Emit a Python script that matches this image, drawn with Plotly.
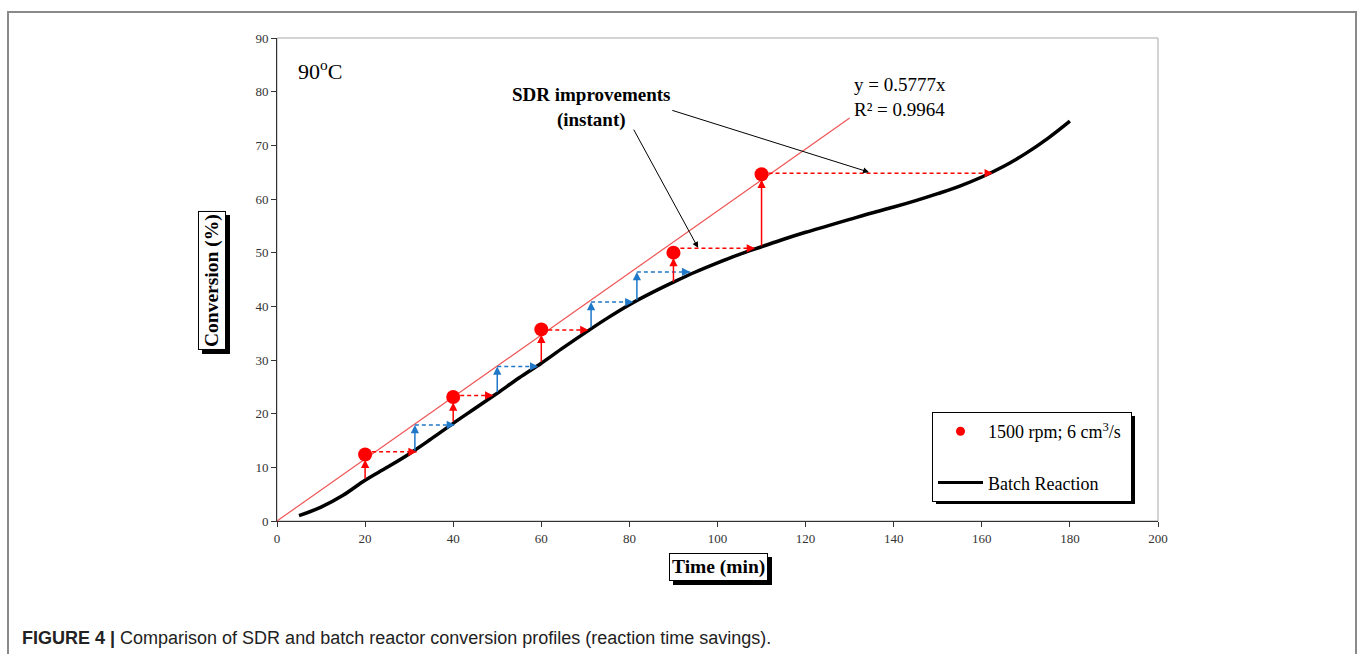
import plotly.graph_objects as go

# ---------------- data ----------------
batch_time = [5, 10, 15, 20, 25, 30, 35, 40, 45, 50, 55, 60, 65, 70, 75, 80, 85, 90,
              95, 100, 105, 110, 115, 120, 125, 130, 135, 140, 145, 150, 155, 160,
              165, 170, 175, 180]
batch_conv = [1.0, 2.6, 4.8, 7.6, 10.0, 12.5, 15.3, 18.2, 21.0, 23.8, 26.7, 29.4,
              32.3, 35.1, 37.8, 40.3, 42.5, 44.5, 46.4, 48.1, 49.7, 51.1, 52.5, 53.8,
              55.0, 56.2, 57.4, 58.5, 59.7, 61.0, 62.4, 64.1, 66.1, 68.5, 71.3, 74.5]

sdr_time = [20, 40, 60, 90, 110]
sdr_conv = [12.4, 23.1, 35.7, 50.0, 64.6]
sdr_base = [7.6, 18.3, 29.4, 44.3, 51.0]        # batch conversion at same time
sdr_level = [12.9, 23.4, 35.6, 50.8, 64.8]      # horizontal saving arrows level
sdr_end = [31.7, 49.1, 70.7, 108.5, 162.5]      # equivalent batch time

blue_time = [31.3, 50.0, 71.3, 81.7]
blue_base = [12.8, 23.7, 35.8, 40.9]
blue_level = [17.9, 28.8, 40.8, 46.4]
blue_end = [40.4, 59.3, 80.9, 93.8]

trend_x = [0, 130]
trend_y = [0, 75.1]

x_ticks = [0, 20, 40, 60, 80, 100, 120, 140, 160, 180, 200]
y_ticks = [0, 10, 20, 30, 40, 50, 60, 70, 80, 90]

RED = "#ff0000"
BLUE = "#1f78c8"
SERIF = "Liberation Serif"

fig = go.Figure()

# trendline
fig.add_trace(go.Scatter(x=trend_x, y=trend_y, mode="lines",
                         line=dict(color="#ee5555", width=1.2), showlegend=False,
                         hoverinfo="skip"))

# dashed horizontal segments
def dashed(xs0, xs1, ys):
    X, Y = [], []
    for a, b, c in zip(xs0, xs1, ys):
        X += [a, b, None]
        Y += [c, c, None]
    return X, Y

bx, by = dashed(blue_time, blue_end, blue_level)
fig.add_trace(go.Scatter(x=bx, y=by, mode="lines", line=dict(color=BLUE, width=1.5, dash="4px,3px"),
                         showlegend=False, hoverinfo="skip"))
rx, ry = dashed(sdr_time, sdr_end, sdr_level)
fig.add_trace(go.Scatter(x=rx, y=ry, mode="lines", line=dict(color=RED, width=1.5, dash="4px,3px"),
                         showlegend=False, hoverinfo="skip"))

# batch curve
fig.add_trace(go.Scatter(x=batch_time, y=batch_conv, mode="lines",
                         line=dict(color="black", width=3.5, shape="spline", smoothing=1),
                         name="Batch Reaction", showlegend=False))

# SDR points
fig.add_trace(go.Scatter(x=sdr_time, y=sdr_conv, mode="markers",
                         marker=dict(color=RED, size=14), showlegend=False))

# legend entries
fig.add_trace(go.Scatter(x=[None], y=[None], mode="markers",
                         marker=dict(color=RED, size=9),
                         name="1500 rpm; 6 cm<sup>3</sup>/s ", legendgroup="a"))
fig.add_trace(go.Scatter(x=[None], y=[None], mode="lines",
                         line=dict(color="black", width=3),
                         name="Batch Reaction", legendgroup="b"))

ann = []
# vertical arrows (solid)
for t, b0, top in zip(sdr_time, sdr_base, sdr_conv):
    ann.append(dict(x=t, y=top - 1.0, ax=t, ay=b0, xref="x", yref="y", axref="x", ayref="y",
                    text="", showarrow=True, arrowhead=2, arrowsize=1.1, arrowwidth=1.5,
                    arrowcolor=RED))
for t, b0, top in zip(blue_time, blue_base, blue_level):
    ann.append(dict(x=t, y=top, ax=t, ay=b0, xref="x", yref="y", axref="x", ayref="y",
                    text="", showarrow=True, arrowhead=2, arrowsize=1.1, arrowwidth=1.5,
                    arrowcolor=BLUE))
# heads of dashed arrows
for e, lv in zip(blue_end, blue_level):
    ann.append(dict(x=e, y=lv, ax=e - 2, ay=lv, xref="x", yref="y", axref="x", ayref="y",
                    text="", showarrow=True, arrowhead=2, arrowsize=1.1, arrowwidth=1.5,
                    arrowcolor=BLUE))
for e, lv in zip(sdr_end, sdr_level):
    ann.append(dict(x=e, y=lv, ax=e - 2, ay=lv, xref="x", yref="y", axref="x", ayref="y",
                    text="", showarrow=True, arrowhead=2, arrowsize=1.1, arrowwidth=1.5,
                    arrowcolor=RED))

# pointer arrows from label
ann.append(dict(x=95.6, y=50.9, ax=80.8, ay=73.2, xref="x", yref="y", axref="x", ayref="y",
                text="", showarrow=True, arrowhead=2, arrowsize=1.2, arrowwidth=1,
                arrowcolor="black"))
ann.append(dict(x=134.4, y=65.0, ax=89.4, ay=76.6, xref="x", yref="y", axref="x", ayref="y",
                text="", showarrow=True, arrowhead=2, arrowsize=1.2, arrowwidth=1,
                arrowcolor="black"))

# text labels
ann.append(dict(x=71.3, y=77.0, xref="x", yref="y", showarrow=False,
                text="<b>SDR improvements<br>(instant)</b>",
                font=dict(family=SERIF, size=19, color="black"), align="center"))
ann.append(dict(x=4.3, y=84.0, xref="x", yref="y", showarrow=False, xanchor="left",
                text="90<sup>o</sup>C", font=dict(family=SERIF, size=22, color="black")))
ann.append(dict(x=130.5, y=79.1, xref="x", yref="y", showarrow=False, xanchor="left",
                text="y = 0.5777x<br>R² = 0.9964", align="left",
                font=dict(family=SERIF, size=19, color="black")))

# axis titles with shadow boxes
for txt, px, py, ang in [("<b>Time (min)</b>", 0.5017, -0.0952, 0),
                         ("<b>Conversion (%)</b>", -0.0738, 0.499, -90)]:
    ann.append(dict(x=px, y=py, xref="paper", yref="paper", showarrow=False, text=txt,
                    textangle=ang, xshift=4, yshift=-4, xanchor="center", yanchor="middle",
                    font=dict(family=SERIF, size=19.5, color="black"),
                    bgcolor="black", bordercolor="black", borderwidth=1, borderpad=2))
    ann.append(dict(x=px, y=py, xref="paper", yref="paper", showarrow=False, text=txt,
                    textangle=ang, xanchor="center", yanchor="middle",
                    font=dict(family=SERIF, size=19.5, color="black"),
                    bgcolor="white", bordercolor="black", borderwidth=1, borderpad=2))

# caption
ann.append(dict(x=(20 - 277) / 881, y=(521 - 638) / 483, xref="paper", yref="paper",
                showarrow=False, xanchor="left", yanchor="middle",
                text="<b>FIGURE 4 |</b> Comparison of SDR and batch reactor conversion profiles (reaction time savings).",
                font=dict(family="Liberation Sans", size=18, color="#222")))

shapes = [
    # plot frame
    dict(type="rect", xref="paper", yref="paper", x0=0, x1=1, y0=0, y1=1,
         line=dict(color="#a8a8a8", width=1), layer="below"),
    # outer figure frame
    dict(type="rect", xref="paper", yref="paper",
         x0=(8 - 277) / 881, x1=(1356 - 277) / 881, y0=(521 - 670) / 483, y1=(521 - 12) / 483,
         line=dict(color="#8a8a8a", width=2), layer="below"),
    # legend shadow
    dict(type="rect", xref="paper", yref="paper",
         x0=(936 - 277) / 881, x1=(1135 - 277) / 881, y0=(521 - 504) / 483, y1=(521 - 416) / 483,
         line=dict(color="black", width=0), fillcolor="black", layer="above"),
]

fig.update_layout(
    width=1358, height=654,
    margin=dict(l=277, r=200, t=38, b=133),
    paper_bgcolor="white", plot_bgcolor="white",
    showlegend=True,
    legend=dict(x=(932 - 277) / 881, y=(521 - 412) / 483, xanchor="left", yanchor="top",
                bgcolor="white", bordercolor="black", borderwidth=1,
                font=dict(family=SERIF, size=18, color="black"),
                traceorder="grouped", tracegroupgap=25, itemwidth=45),
    annotations=ann, shapes=shapes,
    xaxis=dict(range=[0, 200], tickvals=x_ticks, showgrid=False, zeroline=False,
               showline=True, linecolor="#333", linewidth=1, ticks="outside", ticklen=5,
               tickcolor="#333", tickfont=dict(family=SERIF, size=13, color="#333")),
    yaxis=dict(range=[0, 90], tickvals=y_ticks, showgrid=False, zeroline=False,
               showline=True, linecolor="#333", linewidth=1, ticks="outside", ticklen=5,
               tickcolor="#333", tickfont=dict(family=SERIF, size=13, color="#333")),
)

fig.write_html("out.html")
